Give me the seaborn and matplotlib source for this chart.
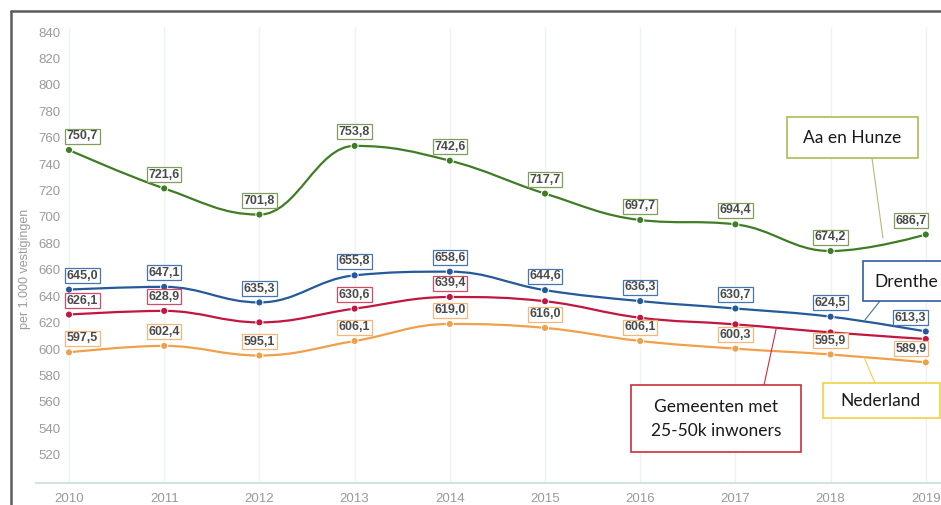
import numpy as np
import pandas as pd
import matplotlib
matplotlib.use("Agg")
import matplotlib.pyplot as plt
import seaborn as sns
from matplotlib.path import Path
from matplotlib.patches import PathPatch, Rectangle
from matplotlib.lines import Line2D

# ---------------- data ----------------
years = [2010, 2011, 2012, 2013, 2014, 2015, 2016, 2017, 2018, 2019]
aa_en_hunze = [750.7, 721.6, 701.8, 753.8, 742.6, 717.7, 697.7, 694.4, 674.2, 686.7]
drenthe = [645.0, 647.1, 635.3, 655.8, 658.6, 644.6, 636.3, 630.7, 624.5, 613.3]
gemeenten = [626.1, 628.9, 620.2, 630.6, 639.4, 636.2, 623.7, 618.7, 612.6, 607.6]
nederland = [597.5, 602.4, 595.1, 606.1, 619.0, 616.0, 606.1, 600.3, 595.9, 589.9]
# which data labels are visible in the reference
gemeenten_labeled = [True, True, False, True, True, False, False, False, False, False]
y_ticks = [520, 540, 560, 580, 600, 620, 640, 660, 680, 700, 720, 740, 760, 780, 800, 820, 840]
y_label = "per 1.000 vestigingen"

series_names = ["Aa en Hunze", "Drenthe", "Gemeenten met 25-50k inwoners", "Nederland"]
series_values = [aa_en_hunze, drenthe, gemeenten, nederland]
series_labeled = [[True] * 10, [True] * 10, gemeenten_labeled, [True] * 10]

line_colors = {"Aa en Hunze": "#3f7d25", "Drenthe": "#24599a",
               "Gemeenten met 25-50k inwoners": "#c0163f", "Nederland": "#f0a04b"}
label_edge = {"Aa en Hunze": "#7f9e5a", "Drenthe": "#4676ad",
              "Gemeenten met 25-50k inwoners": "#d24a66", "Nederland": "#f2b779"}

df = pd.DataFrame({
    "year": np.tile(years, len(series_names)),
    "value": np.concatenate(series_values),
    "series": np.repeat(series_names, len(years)),
})

# ---------------- figure ----------------
W, H = 941, 505
sns.set_theme(style="white")
plt.rcParams["font.family"] = ["Liberation Sans", "DejaVu Sans"]
fig = plt.figure(figsize=(W / 100, H / 100), dpi=100)


def fx(px):
    return px / W


def fy(py):
    return 1 - py / H


ax_left, ax_right, ax_top, ax_bottom = 36, 941, 27, 483
ax = fig.add_axes([fx(ax_left), fy(ax_bottom), fx(ax_right - ax_left), (ax_bottom - ax_top) / H])
ax.set_xlim(2009.6534, 2019.1597)
ax.set_ylim(498.6, 843.8)


def spline_path(xs, ys):
    n = len(xs)
    sm, den = 1.5, 2.5
    lc = [None] * n
    rc = [None] * n
    for i in range(1, n - 1):
        px, py = xs[i], ys[i]
        lx, ly = xs[i - 1], ys[i - 1]
        nx, ny = xs[i + 1], ys[i + 1]
        lcx = (sm * px + lx) / den
        lcy = (sm * py + ly) / den
        rcx = (sm * px + nx) / den
        rcy = (sm * py + ny) / den
        corr = 0.0
        if rcx != lcx:
            corr = ((rcy - lcy) * (rcx - px)) / (rcx - lcx) + py - rcy
        lcy += corr
        rcy += corr
        if lcy > ly and lcy > py:
            lcy = max(ly, py)
            rcy = 2 * py - lcy
        elif lcy < ly and lcy < py:
            lcy = min(ly, py)
            rcy = 2 * py - lcy
        if rcy > ny and rcy > py:
            rcy = max(ny, py)
            lcy = 2 * py - rcy
        elif rcy < ny and rcy < py:
            rcy = min(ny, py)
            lcy = 2 * py - rcy
        lc[i] = (lcx, lcy)
        rc[i] = (rcx, rcy)
    verts = [(xs[0], ys[0])]
    codes = [Path.MOVETO]
    for i in range(1, n):
        c1 = rc[i - 1] if rc[i - 1] is not None else (xs[i - 1], ys[i - 1])
        c2 = lc[i] if lc[i] is not None else (xs[i], ys[i])
        verts += [c1, c2, (xs[i], ys[i])]
        codes += [Path.CURVE4] * 3
    return Path(verts, codes)


# gridlines
for yr in years:
    ax.axvline(yr, color="#eef2f2", lw=1.0, zorder=0)

# smooth lines
for name, vals in zip(series_names, series_values):
    ax.add_patch(PathPatch(spline_path(years, vals), facecolor="none",
                           edgecolor=line_colors[name], lw=1.6, zorder=2,
                           transform=ax.transData))

# markers via seaborn
sns.scatterplot(data=df, x="year", y="value", hue="series", palette=line_colors,
                s=26, edgecolor="white", linewidth=0.7, legend=False, ax=ax, zorder=3)

# data labels
last = len(years) - 1
for name, vals, shown in zip(series_names, series_values, series_labeled):
    for i, (yr, v) in enumerate(zip(years, vals)):
        if not shown[i]:
            continue
        if i == 0:
            ha, dx = "left", -1.5
        elif i == last:
            ha, dx = "right", 0.5
        else:
            ha, dx = "center", 0
        ax.annotate(f"{v:.1f}".replace(".", ","), xy=(yr, v), xytext=(dx, 10),
                    textcoords="offset points", ha=ha, va="center",
                    fontsize=9, fontweight="bold", color="#4a4a4a", zorder=5,
                    bbox=dict(boxstyle="square,pad=0.12", fc="white",
                              ec=label_edge[name], lw=0.9))

# axes styling
ax.set_xticks(years)
ax.set_xticklabels([str(y) for y in years])
ax.set_yticks(y_ticks)
ax.set_yticklabels([str(t) for t in y_ticks])
ax.tick_params(axis="x", length=0, pad=7, labelsize=9.5, labelcolor="#9a9a9a")
ax.tick_params(axis="y", length=0, pad=-1.5, labelsize=9.5, labelcolor="#9a9a9a")
for lab in ax.get_yticklabels():
    lab.set_ha("left")
ax.set_xlabel("")
ax.set_ylabel("")
for s in ["top", "right", "left"]:
    ax.spines[s].set_visible(False)
ax.spines["bottom"].set_color("#cfe4e0")
ax.spines["bottom"].set_linewidth(1.4)

fig.text(fx(25), fy(269), y_label, rotation=90, ha="center", va="center",
         fontsize=9, color="#9a9a9a")

# screenshot frame
fig.add_artist(Line2D([fx(11), fx(11)], [fy(11), fy(505)], color="#5c5c5c", lw=1.8))
fig.add_artist(Line2D([fx(11), fx(941)], [fy(11), fy(11)], color="#5c5c5c", lw=1.8))

# callout boxes
callout_font = ["Lato", "DejaVu Sans"]


def callout(x0, y0, x1, y1, edge, text, tx, ty, ha="center", anchor=None, target=None, lcolor=None):
    fig.add_artist(Rectangle((fx(x0), fy(y1)), fx(x1 - x0), (y1 - y0) / H,
                             transform=fig.transFigure, fc="white", ec=edge, lw=1.2, zorder=6))
    fig.text(fx(tx), fy(ty), text, ha=ha, va="center", fontsize=12.5, color="#1a1a1a",
             family=callout_font, zorder=7, linespacing=1.55)
    if anchor is not None:
        ax.annotate("", xy=target, xycoords="data",
                    xytext=(anchor[0], H - anchor[1]), textcoords="figure pixels",
                    arrowprops=dict(arrowstyle="-", color=lcolor or edge, lw=0.8,
                                    shrinkA=0, shrinkB=0), zorder=4)


callout(787, 117, 918, 158, "#adbb55", "Aa en Hunze", 852, 138,
        anchor=(872, 158), target=(2018.55, 684.0), lcolor="#b3bb7e")
callout(863, 261, 950, 301, "#2f5f9f", "Drenthe", 874, 282, ha="left",
        anchor=(880, 301), target=(2018.36, 622.0), lcolor="#4a6f9c")
callout(631, 385, 801, 452, "#c8303c", "Gemeenten met\n25-50k inwoners", 716, 419,
        anchor=(764, 385), target=(2017.43, 616.0), lcolor="#c8303c")
callout(823, 383, 940, 418, "#f2cf45", "Nederland", 880, 401,
        anchor=(875, 383), target=(2018.35, 594.0), lcolor="#f0cf50")

fig.savefig("out.png", dpi=100)
